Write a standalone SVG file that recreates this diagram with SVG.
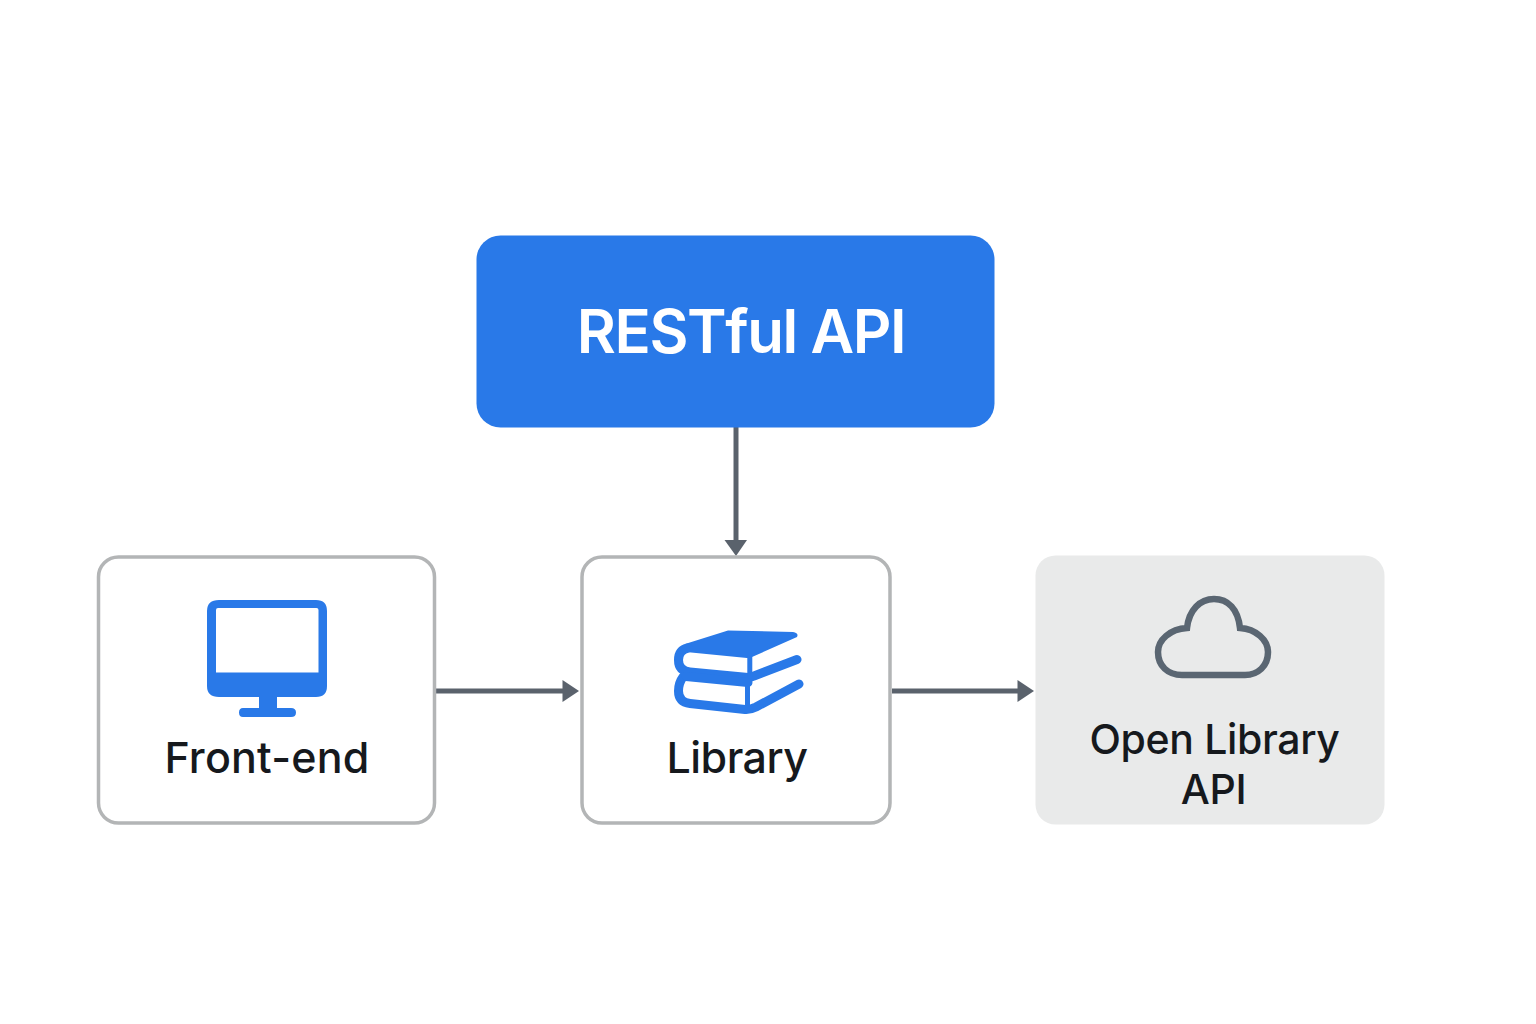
<svg xmlns="http://www.w3.org/2000/svg" width="1536" height="1024" viewBox="0 0 1536 1024">
<style>
text{font-family:Inter,"Liberation Sans",sans-serif;text-anchor:middle}
.lbl{font-size:43px;font-weight:500;fill:#16191d}
.lbl2{font-size:41px;letter-spacing:-0.350px}
.box{fill:#fff;stroke:#b3b5b6;stroke-width:3.500}
.conn{stroke:#5a626c;stroke-width:5;fill:none}
.ah{fill:#5a626c}
.ico{fill:none;stroke:#2979e8;stroke-width:9;stroke-linecap:round;stroke-linejoin:round}
</style>
<rect width="1536" height="1024" fill="#fff"/>
<g id="connectors">
<line class="conn" x1="736" y1="427" x2="736" y2="542"/><polygon class="ah" points="724.500,540 747,540 736,556"/>
<line class="conn" x1="436" y1="691" x2="564" y2="691"/><polygon class="ah" points="562.500,680 579,691 562.500,702"/>
<line class="conn" x1="892" y1="691" x2="1019" y2="691"/><polygon class="ah" points="1017.500,680 1034,691 1017.500,702"/>
</g>
<g id="restful-api">
<rect x="476.500" y="235.500" width="518" height="192" rx="24" fill="#2979e8"/>
<text x="741" y="353" font-size="60" font-weight="600" letter-spacing="-1.400" fill="#fff">RESTful API</text>
</g>
<g id="front-end">
<rect class="box" x="98.500" y="557" width="336" height="266" rx="20"/>
<path d="M219 600H316Q327 600 327 611V686Q327 697 316 697H277V708H291Q296 708 296 712.500Q296 717 291 717H243Q239 717 239 712.500Q239 708 243 708H259V697H219Q207 697 207 686V611Q207 600 219 600ZM218 608Q216 608 216 610V672.500H318.500V610Q318.500 608 316.500 608Z" fill="#2979e8" fill-rule="evenodd"/>
<text class="lbl" x="267" y="772.500" letter-spacing="0.200">Front-end</text>
</g>
<g id="library">
<rect class="box" x="582" y="557" width="308" height="266" rx="20"/>
<path d="M685 644L728 630.500L793 632Q799 633 797 637L752 657Q750 658 747 658L686 652Z" fill="#2979e8"/>
<path class="ico" d="M688 648Q678.500 650 678.500 660Q678.500 671 690 672L748 677.500Q751 677.500 754 676L797 659.500"/>
<path class="ico" d="M683 677Q678.500 683 678.500 691Q678.500 702 690 703.500L745 709.500Q750 710 756 707L799 684"/>
<path class="ico" d="M686 676.500L748 682.500"/>
<path d="M747.300 655h5v22h-5zM745 684h5v25h-5z" fill="#2979e8"/>
<text class="lbl" x="737" y="772.500" letter-spacing="-0.500">Library</text>
</g>
<g id="open-library-api">
<rect x="1035.500" y="555.500" width="349" height="269" rx="20" fill="#e9eaea"/>
<path d="M1187 628C1189 610 1200 599 1214 599C1228 599 1238 609 1240 628C1256 629 1268 640 1268 652C1268 666 1258 675 1245 675H1182C1168 675 1158 666 1158 652C1158 640 1170 629 1187 628Z" fill="none" stroke="#5a6672" stroke-width="6.500" stroke-linejoin="miter"/>
<text class="lbl lbl2" x="1214.500" y="754">Open Library</text>
<text class="lbl lbl2" x="1213.500" y="804">API</text>
</g>
</svg>
